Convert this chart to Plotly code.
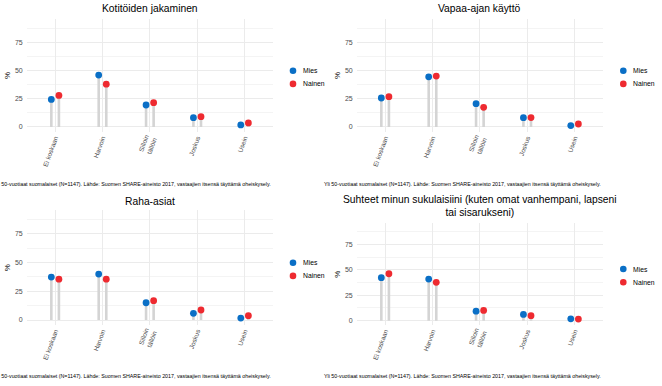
import plotly.graph_objects as go
import numpy as np

# ---------------- data ----------------
categories = ["Ei koskaan", "Harvoin", "Silloin tällöin", "Joskus", "Usein"]
tick_labels = ["Ei koskaan", "Harvoin", "Silloin<br>tällöin", "Joskus", "Usein"]
groups = ["Mies", "Nainen"]

titles = [
    "Kotitöiden jakaminen",
    "Vapaa-ajan käyttö",
    "Raha-asiat",
    "Suhteet minun sukulaisiini (kuten omat vanhempani, lapseni<br>tai sisarukseni)",
]

kotitoiden_mies = [24.4, 45.9, 19.4, 8.2, 1.8]
kotitoiden_nainen = [27.9, 37.9, 21.5, 9.1, 3.5]
vapaa_mies = [25.6, 44.4, 20.6, 8.2, 1.2]
vapaa_nainen = [26.8, 45.0, 17.4, 8.3, 2.6]
raha_mies = [37.3, 39.9, 15.0, 5.8, 1.7]
raha_nainen = [35.5, 35.5, 16.8, 8.7, 3.8]
suhteet_mies = [42.2, 40.9, 9.4, 6.2, 1.9]
suhteet_nainen = [46.1, 37.7, 10.1, 4.9, 1.6]

y_ticks = [0, 25, 50, 75]
y_minor = [12.5, 37.5, 62.5, 87.5]
caption = ("Yli 50-vuotiaat suomalaiset (N=1147). Lähde: Suomen SHARE-aineisto 2017, "
           "vastaajien itsensä täyttämä oheiskysely.")

panel_values = [
    (kotitoiden_mies, kotitoiden_nainen),
    (vapaa_mies, vapaa_nainen),
    (raha_mies, raha_nainen),
    (suhteet_mies, suhteet_nainen),
]

# ---------------- styling / layout (pixels) ----------------
W, H = 662, 386
FONT = "Liberation Sans, Arial, sans-serif"
colors = {"Mies": "#0a6fc6", "Nainen": "#ee2a30"}
stick_color = "#d4d4d4"
grid_color = "#ebebeb"
dodge = 0.08

panels = [
    dict(x0=26.7, x1=273.0, y0=19.0, y1=132.0, ty=9.0, cy=184.0, lx=293.0, ly=70.7),
    dict(x0=356.7, x1=603.0, y0=19.0, y1=132.0, ty=9.0, cy=184.0, lx=623.3, ly=70.7),
    dict(x0=26.7, x1=273.0, y0=210.0, y1=325.2, ty=201.3, cy=376.0, lx=293.0, ly=262.7),
    dict(x0=356.7, x1=603.0, y0=223.3, y1=325.3, ty=206.2, cy=376.0, lx=623.3, ly=269.0),
]


def fx(px):
    return px / W


def fy(py):
    return 1 - py / H


pos = np.arange(len(categories))
fig = go.Figure()
annotations = []
shapes = []
layout = {}

for i, (p, vals, title) in enumerate(zip(panels, panel_values, titles)):
    n = i + 1
    xa = "x" if n == 1 else f"x{n}"
    ya = "y" if n == 1 else f"y{n}"
    offsets = [-dodge, dodge]
    for g, v, off in zip(groups, vals, offsets):
        fig.add_trace(go.Bar(
            x=pos + off, y=v, width=0.055, marker_color=stick_color,
            marker_line_width=0, xaxis=xa, yaxis=ya, showlegend=False,
            hoverinfo="skip"))
    for g, v, off in zip(groups, vals, offsets):
        fig.add_trace(go.Scatter(
            x=pos + off, y=v, mode="markers", name=g,
            marker=dict(size=6.8, color=colors[g], line=dict(width=0)),
            xaxis=xa, yaxis=ya, showlegend=False,
            customdata=categories, hovertemplate="%{customdata}: %{y:.1f} %"))

    layout[f"xaxis{'' if n == 1 else n}"] = dict(
        domain=[fx(p["x0"]), fx(p["x1"])], anchor=ya,
        range=[-0.6, len(categories) - 0.4],
        tickvals=list(pos), ticktext=tick_labels, tickangle=-70,
        tickfont=dict(size=6.5, color="#4d4d4d", family=FONT),
        showgrid=True, gridcolor=grid_color, gridwidth=0.8,
        zeroline=False, showline=False, ticks="")
    layout[f"yaxis{'' if n == 1 else n}"] = dict(
        domain=[fy(p["y1"]), fy(p["y0"])], anchor=xa,
        range=[-4.5, 95.6], tickvals=y_ticks,
        tickfont=dict(size=7, color="#4d4d4d", family=FONT),
        showgrid=True, gridcolor=grid_color, gridwidth=0.8,
        minor=dict(tickvals=y_minor, showgrid=True, gridcolor="#f4f4f4", gridwidth=0.5),
        zeroline=False, showline=False, ticks="",
        ticklabelstandoff=3,
        title=dict(text="%", font=dict(size=8, color="#000", family=FONT), standoff=3))

    # panel title
    annotations.append(dict(
        text=title, x=fx((p["x0"] + p["x1"]) / 2), y=fy(p["ty"]),
        xref="paper", yref="paper", xanchor="center", yanchor="middle",
        showarrow=False, align="center",
        font=dict(size=10.3, color="#000", family=FONT)))
    # caption (right-aligned to the panel; left panels are clipped as in the original)
    annotations.append(dict(
        text=caption, x=fx(p["x1"]), y=fy(p["cy"]),
        xref="paper", yref="paper", xanchor="right", yanchor="middle",
        showarrow=False, font=dict(size=5.3, color="#000", family=FONT)))
    # legend
    for k, g in enumerate(groups):
        cy = p["ly"] + 13.2 * k
        r = 3.3
        shapes.append(dict(
            type="circle", xref="paper", yref="paper",
            x0=fx(p["lx"] - r), x1=fx(p["lx"] + r),
            y0=fy(cy + r), y1=fy(cy - r),
            fillcolor=colors[g], line=dict(width=0)))
        annotations.append(dict(
            text=g, x=fx(p["lx"] + 7.5), y=fy(cy),
            xref="paper", yref="paper", xanchor="left", yanchor="middle",
            showarrow=False, font=dict(size=6.8, color="#000", family=FONT)))

fig.update_layout(
    width=W, height=H,
    margin=dict(l=0, r=0, t=0, b=0),
    paper_bgcolor="white", plot_bgcolor="white",
    barmode="overlay", showlegend=False,
    font=dict(family=FONT),
    annotations=annotations, shapes=shapes,
    **layout)

fig.write_html("out.html",
               config={"displayModeBar": False},
               post_script="document.body.style.margin='0px';document.body.style.overflow='hidden';")
